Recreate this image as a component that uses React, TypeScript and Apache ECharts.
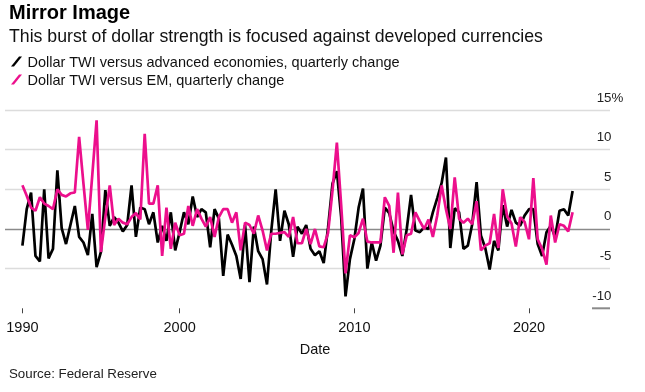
import React, { useEffect, useRef } from 'react';
import * as echarts from 'echarts';

const titleText = 'Mirror Image';
const subtitleText = 'This burst of dollar strength is focused against developed currencies';
const sourceText = 'Source: Federal Reserve';
const seriesNames = [
  'Dollar TWI versus advanced economies, quarterly change',
  'Dollar TWI versus EM, quarterly change',
];
const axisName = 'Date';

// Quarterly observations, first one at the end of Q4 1990
const firstYear = 1990;
const firstQuarter = 4;

const advanced = [
  -2.1, 2.5, 4.6, -3.4, -4.1, 5.0, -3.7, -2.5, 7.4, 0.1,
  -1.9, 0.5, 2.9, -1.0, -1.7, -3.3, 1.9, -4.8, -2.9, 4.9,
  0.4, 1.5, 0.8, -0.3, 0.5, 5.5, -1.0, 2.7, 2.5, 0.6,
  2.1, -1.7, 0.4, -1.5, 2.1, -2.7, -0.4, 2.1, 0.6, 4.1,
  1.5, 2.5, 2.1, -2.3, 2.5, 1.3, -5.9, -0.7, -2.0, -3.4,
  -6.3, 0.5, -6.7, 0.3, -2.8, -3.8, -7.0, -0.2, 5.0, -1.5,
  2.3, 0.6, -3.5, 0.3, -0.6, 0.5, -2.5, -3.3, -2.8, -4.3,
  0.2, 5.7, 7.3, 1.5, -8.5, -3.8, -1.3, 2.7, 5.1, -5.0,
  -1.7, -4.0, -2.1, 2.7, 2.0, -0.3, -1.5, -3.4, 0.0, 4.3,
  -0.2, -0.4, 0.2, 0.0, 2.1, 3.9, 5.8, 9.0, -2.4, 2.6,
  2.1, -2.5, -2.1, 0.6, 5.9, -0.8, -2.4, -5.1, -1.5, -2.7,
  3.0, 0.3, 2.4, 0.8, 0.4, 1.7, 2.5, 2.5, -1.9, -3.4,
  -0.4, 0.4, -1.0, 2.3, 2.5, 1.7, 4.8,
];

const emerging = [
  5.5, 4.2, 2.7, 2.3, 4.0, 3.2, 2.9, 2.5, 5.0, 4.3,
  4.1, 4.5, 4.6, 11.6, 5.7, -0.1, 6.8, 13.7, -2.9, 1.5,
  5.5, 0.5, 1.3, 0.8, 0.6, 1.5, 2.0, 1.2, 12.0, 3.2,
  3.2, 5.5, -3.4, 2.7, -2.5, 0.8, -0.8, -0.6, 2.9, 0.4,
  2.5, 1.3, 0.3, 1.5, -1.0, 1.5, 2.5, 2.5, 0.8, 2.1,
  -2.7, 0.8, 0.5, -0.6, 1.7, -0.2, -2.7, -0.6, -0.6, -0.5,
  -0.4, -1.0, 1.5, -1.8, -1.8, 0.0, -1.9, 0.0, -2.2, -2.3,
  -0.5, 4.8, 10.9, 3.0, -5.6, -0.8, -1.05, -0.5, 1.3, -1.6,
  -1.7, -1.7, -1.7, 4.0, 2.9, -3.0, 4.6, -3.2, -0.8, -0.6,
  2.1, 1.0, 0.0, 1.2, -1.0, 1.7, 5.5, 2.5, 0.0, 6.5,
  1.3, 0.8, 1.3, 0.6, 3.5, -2.7, -2.1, -1.8, 1.9, -2.4,
  5.0, 1.6, 0.7, -2.2, 1.5, 0.9, -1.3, 6.4, -1.3, -2.5,
  -4.5, 1.7, -1.7, 0.6, 0.4, -0.3, 2.1,
];

const yMin = -10;
const yMax = 15;
const yStep = 5;
const xTickDates = ['1990-12-31', '2000-01-01', '2010-01-01', '2020-01-01'];
const xMin = '1990-01-01';
const xMax = '2024-08-20';

const quarterEnds = ['03-31', '06-30', '09-30', '12-31'];
function quarterEndDates(n: number): string[] {
  const out: string[] = [];
  for (let i = 0; i < n; i++) {
    const k = firstQuarter - 1 + i;
    const y = firstYear + Math.floor(k / 4);
    out.push(`${y}-${quarterEnds[k % 4]}`);
  }
  return out;
}
const ts = (d: string) => Date.parse(d + 'T00:00:00Z');

const FONT = '"Liberation Sans", Arial, Helvetica, sans-serif';
const BLACK = '#000000';
const PINK = '#ec0f8c';

export default function App() {
  const ref = useRef<HTMLDivElement>(null);
  useEffect(() => {
    if (!ref.current) return;
    const chart = echarts.init(ref.current, null, { renderer: 'svg' });
    const dates = quarterEndDates(advanced.length).map(ts);
    const tickValues = xTickDates.map(ts);
    chart.setOption({
      animation: false,
      textStyle: { fontFamily: FONT },
      title: [
        {
          text: titleText,
          left: 4,
          top: -3,
          textStyle: { fontSize: 20, fontWeight: 'bold', color: '#000', fontFamily: FONT },
        },
        {
          text: subtitleText,
          left: 4,
          top: 22,
          textStyle: { fontSize: 17.7, fontWeight: 'normal', color: '#111', fontFamily: FONT },
        },
        {
          text: sourceText,
          left: 4,
          top: 362,
          textStyle: { fontSize: 13.3, fontWeight: 'normal', color: '#222', fontFamily: FONT },
        },
      ],
      legend: {
        orient: 'vertical',
        left: 6,
        top: 48.5,
        itemWidth: 12,
        itemHeight: 10,
        itemGap: 2,
        selectedMode: false,
        icon: 'path://M0,10 L8,0 L11,0 L3,10 Z',
        textStyle: { fontSize: 14.5, color: '#111', lineHeight: 16, fontFamily: FONT },
        data: seriesNames,
      },
      grid: { left: 5, right: 35, top: 110, bottom: 83.7, containLabel: false },
      xAxis: {
        type: 'value',
        min: ts(xMin),
        max: ts(xMax),
        name: axisName,
        nameLocation: 'middle',
        nameGap: 33,
        nameTextStyle: { fontSize: 14.5, color: '#111', padding: [0, 0, 0, 15], fontFamily: FONT },
        axisLine: { show: true, onZero: false, lineStyle: { color: 'rgba(0,0,0,0)' } },
        axisTick: {
          show: true,
          length: 5,
          lineStyle: { color: '#444', width: 1 },
          customValues: tickValues,
        },
        axisLabel: {
          margin: 11,
          fontSize: 14.5,
          color: '#111',
          fontFamily: FONT,
          customValues: tickValues,
          formatter: (v: number) => String(new Date(v).getUTCFullYear()),
        },
        splitLine: { show: false },
      },
      yAxis: {
        type: 'value',
        position: 'right',
        min: yMin,
        max: yMax,
        interval: yStep,
        axisLine: { show: false },
        axisTick: { show: false },
        axisLabel: {
          align: 'right',
          verticalAlign: 'bottom',
          margin: 13.3,
          padding: [0, 0, 6, 0],
          formatter: (v: number) => (v === yMax ? `{n|${v}}{p|%}` : `{n|${v}}{h|%}`),
          rich: {
            n: { fontSize: 13.3, color: '#222', fontFamily: FONT, lineHeight: 14 },
            p: { fontSize: 13.3, color: '#222', fontFamily: FONT, lineHeight: 14 },
            h: { fontSize: 13.3, color: 'rgba(0,0,0,0)', fontFamily: FONT, lineHeight: 14 },
          },
        },
        splitLine: {
          show: true,
          lineStyle: {
            width: 1.3,
            color: ['rgba(0,0,0,0)', '#dcdcdc', '#8a8a8a', '#dcdcdc', '#dcdcdc', '#dcdcdc'],
          },
        },
      },
      graphic: [
        {
          type: 'line',
          shape: { x1: 592, y1: 308.3, x2: 610, y2: 308.3 },
          style: { stroke: '#8a8a8a', lineWidth: 2 },
          silent: true,
        },
      ],
      series: [
        {
          name: seriesNames[0],
          type: 'line',
          showSymbol: false,
          data: dates.map((d, i) => [d, advanced[i]]),
          lineStyle: { color: BLACK, width: 2.7 },
          itemStyle: { color: BLACK },
          z: 2,
        },
        {
          name: seriesNames[1],
          type: 'line',
          showSymbol: false,
          data: dates.map((d, i) => [d, emerging[i]]),
          lineStyle: { color: PINK, width: 2.7 },
          itemStyle: { color: PINK },
          z: 3,
        },
      ],
    });
    return () => chart.dispose();
  }, []);
  return (
    <div
      ref={ref}
      style={{ position: 'fixed', left: 0, top: 0, width: 645, height: 392 }}
    />
  );
}
